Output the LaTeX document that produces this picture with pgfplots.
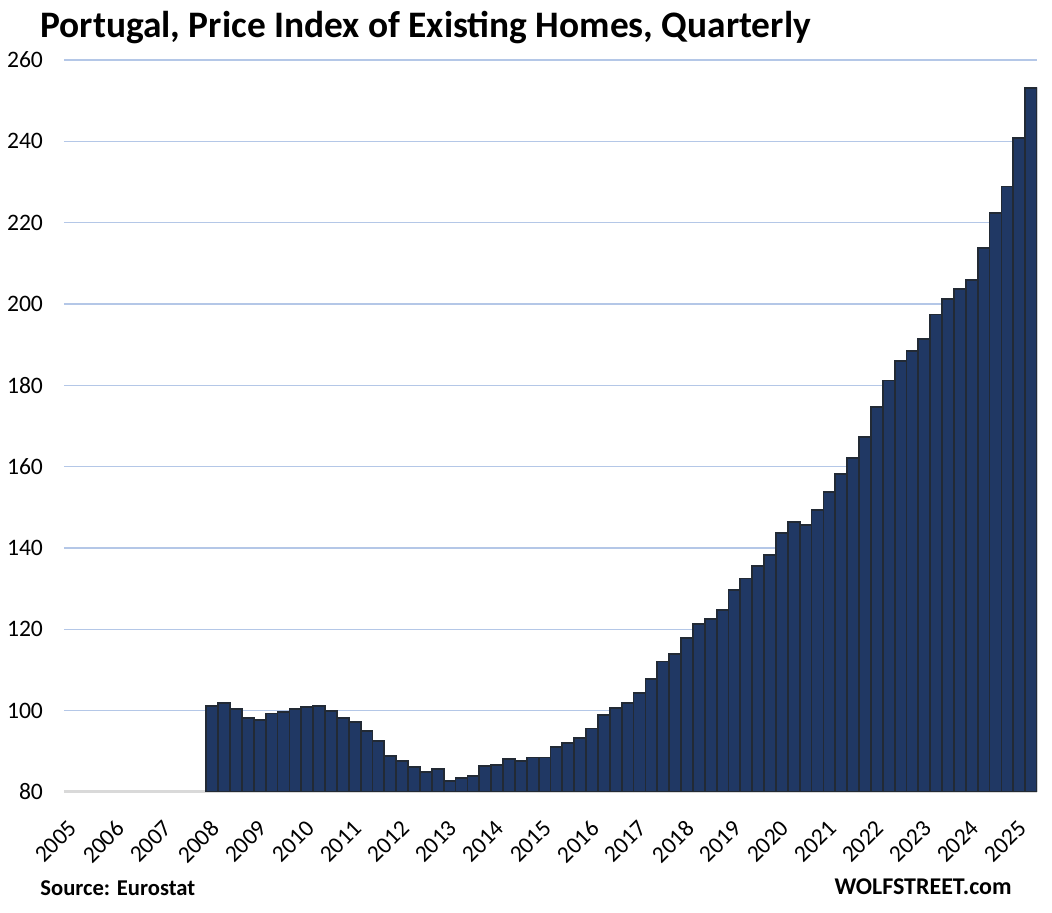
\documentclass[border=0pt]{standalone}
\usepackage{fontspec}
\setmainfont{Carlito}
\usepackage{pgfplots}
\pgfplotsset{compat=1.18}
\definecolor{barfill}{HTML}{203864}
\definecolor{baredge}{HTML}{222A35}
\definecolor{gridblue}{HTML}{B4C7E7}
\definecolor{axisgray}{HTML}{D9D9D9}
\begin{document}
\begin{tikzpicture}
\path[use as bounding box] (0,0) rectangle (526pt,456.5pt);
\node[anchor=base west, inner sep=0pt, font=\bfseries\fontsize{18.7}{22}\selectfont]
  at (20pt,437.5pt) {Portugal, Price Index of Existing Homes, Quarterly};
\node[anchor=base west, inner sep=0pt, font=\bfseries\fontsize{11.3}{13}\selectfont]
  at (20pt,8.5pt) {Source: Eurostat};
\node[anchor=base east, inner sep=0pt, font=\bfseries\fontsize{12}{14}\selectfont]
  at (506pt,9pt) {WOLFSTREET.com};
\begin{axis}[
    at={(32pt,60.5pt)}, anchor=south west,
    scale only axis,
    width=486.5pt, height=366pt,
    xmin=-0.5, xmax=81.5,
    ymin=80, ymax=260,
    ytick={80,100,...,260},
    xtick={0,4,...,80},
    xticklabels={2005,2006,2007,2008,2009,2010,2011,2012,2013,2014,2015,2016,2017,2018,2019,2020,2021,2022,2023,2024,2025},
    major tick length=0pt,
    ymajorgrids,
    major grid style={draw=gridblue, line width=0.7pt},
    axis x line*=bottom,
    axis y line*=left,
    x axis line style={-, draw=axisgray, line width=1.5pt},
    y axis line style={draw=none},
    tick label style={font=\fontsize{11.8}{14}\selectfont},
    /pgf/number format/assume math mode=true,
    yticklabel style={xshift=-7pt},
    xticklabel style={rotate=45, anchor=east, xshift=-7pt, yshift=-12.6pt},
    ybar, bar width=1, bar shift=0pt,
]
\addplot[fill=barfill, draw=baredge, line width=0.9pt] coordinates {
(12,101.2) (13,101.9) (14,100.4) (15,98.2)
(16,97.7) (17,99.3) (18,99.7) (19,100.4)
(20,100.9) (21,101.2) (22,99.9) (23,98.2)
(24,97.2) (25,95.0) (26,92.5) (27,88.8)
(28,87.7) (29,86.1) (30,84.9) (31,85.7)
(32,82.7) (33,83.4) (34,83.9) (35,86.4)
(36,86.6) (37,88.1) (38,87.7) (39,88.5)
(40,88.5) (41,91.1) (42,92.1) (43,93.3)
(44,95.6) (45,99.0) (46,100.6) (47,101.9)
(48,104.3) (49,107.8) (50,112.1) (51,113.9)
(52,117.8) (53,121.3) (54,122.5) (55,124.7)
(56,129.6) (57,132.5) (58,135.5) (59,138.2)
(60,143.6) (61,146.3) (62,145.6) (63,149.3)
(64,153.7) (65,158.1) (66,162.1) (67,167.2)
(68,174.6) (69,181.2) (70,185.9) (71,188.4)
(72,191.3) (73,197.4) (74,201.2) (75,203.6)
(76,205.9) (77,213.8) (78,222.3) (79,228.9)
(80,240.9) (81,253.2)
};
\end{axis}
\end{tikzpicture}
\end{document}
